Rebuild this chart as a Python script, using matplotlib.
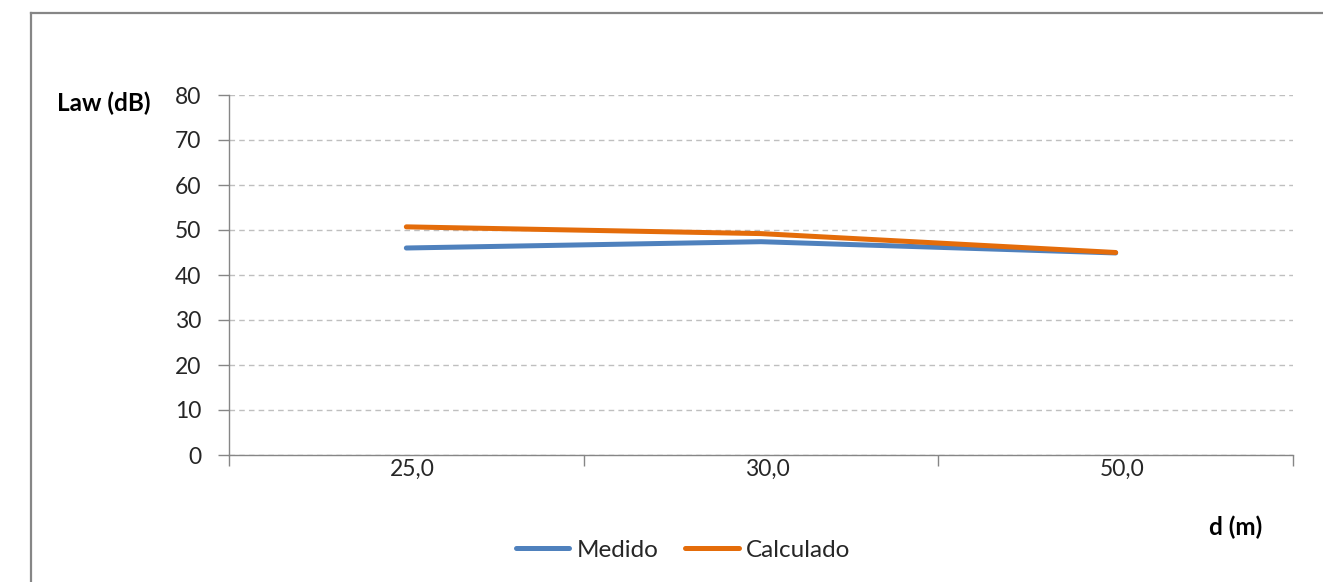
import numpy as np
import matplotlib.pyplot as plt
import matplotlib.transforms as mtransforms
from matplotlib.lines import Line2D

plt.rcParams['font.family'] = ['Lato', 'DejaVu Sans']

distances = ['25,0', '30,0', '50,0']
medido = [46.0, 47.4, 44.9]
calculado = [50.7, 49.2, 45.0]
y_ticks = [0, 10, 20, 30, 40, 50, 60, 70, 80]

blue = '#4F81BD'
orange = '#E46C0A'
axis_gray = '#868686'
text_col = '#262626'

W, H = 1323, 582
fig = plt.figure(figsize=(W / 100, H / 100), dpi=100)
fig.patch.set_facecolor('white')

# outer chart frame: only the left and top edges fall inside the image
fx, fy = 30.5 / W, 1 - 12.5 / H
fig.add_artist(Line2D([fx, fx], [0, fy], transform=fig.transFigure,
                      color=axis_gray, linewidth=1.6))
fig.add_artist(Line2D([fx, 1], [fy, fy], transform=fig.transFigure,
                      color=axis_gray, linewidth=1.6))

ax = fig.add_axes([229 / W, (H - 455) / H, (1293 - 229) / W, 360 / H])
x = np.arange(len(distances))
ax.plot(x, medido, color=blue, linewidth=3.6, solid_capstyle='round', zorder=3)
ax.plot(x, calculado, color=orange, linewidth=3.6, solid_capstyle='round', zorder=4)

ax.set_xlim(-0.5, len(distances) - 0.5)
ax.set_ylim(0, 80)
ax.set_yticks(y_ticks)
ax.set_yticklabels([str(v) for v in y_ticks], fontsize=16.5, color=text_col)
ax.set_xticks(x)
ax.set_xticklabels(distances, fontsize=16.5, color=text_col)
ax.tick_params(axis='x', length=0, pad=3)
ax.set_xticks(np.arange(-0.5, len(distances)), minor=True)
ax.tick_params(axis='x', which='minor', length=8, width=1, color=axis_gray, direction='out')
ax.tick_params(axis='y', length=8, width=1, color=axis_gray, pad=12)

# category labels sit a little right of the category centre
shift = mtransforms.ScaledTranslation(6 / 100, 0, fig.dpi_scale_trans)
for lbl in ax.get_xticklabels():
    lbl.set_transform(lbl.get_transform() + shift)

ax.grid(axis='y', color='#BFBFBF', linestyle=(0, (4, 3)), linewidth=1)
ax.set_axisbelow(True)
for side in ['top', 'right']:
    ax.spines[side].set_visible(False)
for side in ['left', 'bottom']:
    ax.spines[side].set_color(axis_gray)
    ax.spines[side].set_linewidth(1)

fig.text(104 / W, 1 - 103 / H, 'Law (dB)', fontsize=17.5, fontweight='bold',
         color='black', ha='center', va='center')
fig.text(1236 / W, 1 - 527 / H, 'd (m)', fontsize=17.5, fontweight='bold',
         color='black', ha='center', va='center')

handles = [Line2D([], [], color=blue, linewidth=3.6, solid_capstyle='round'),
           Line2D([], [], color=orange, linewidth=3.6, solid_capstyle='round')]
fig.legend(handles, ['Medido', 'Calculado'], loc='center',
           bbox_to_anchor=(683 / W, 1 - 550 / H), ncol=2, frameon=False,
           fontsize=17.5, handlelength=2.2, handletextpad=0.3, columnspacing=1.1,
           labelcolor=text_col)

fig.savefig('out.png', dpi=100)
